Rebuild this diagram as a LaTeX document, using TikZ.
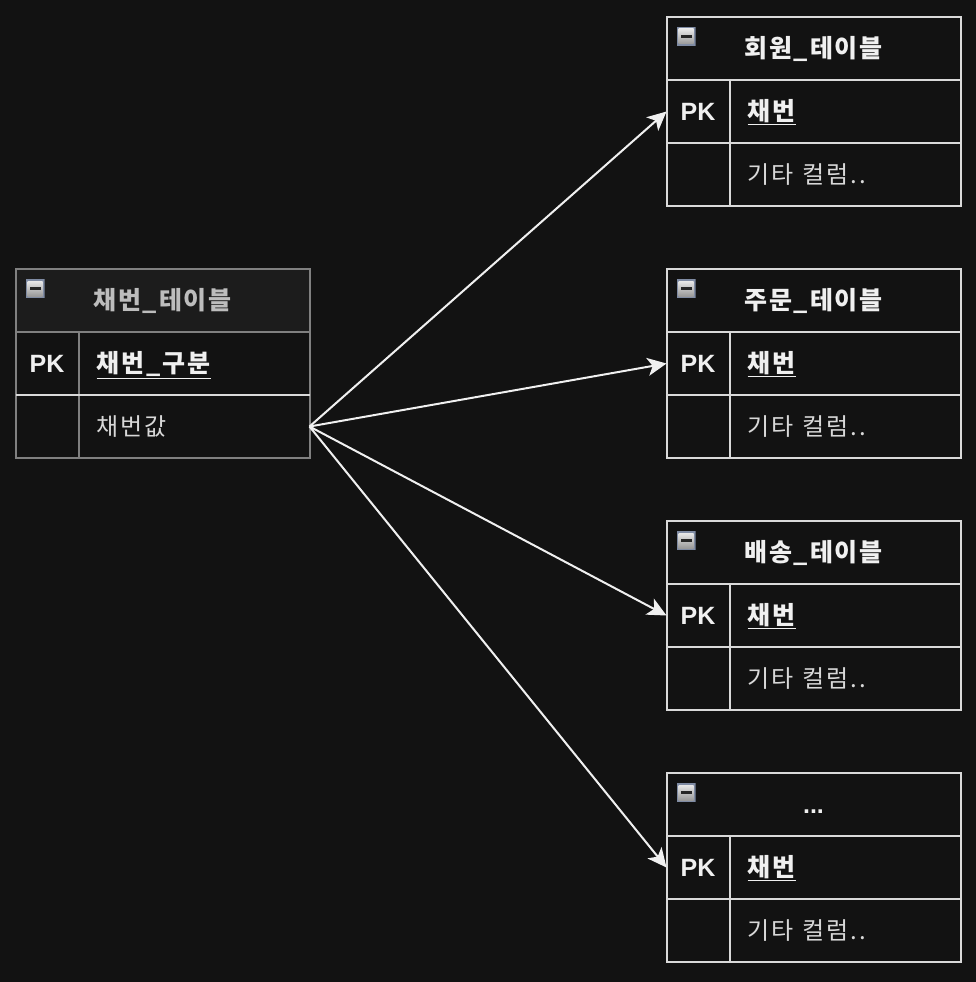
\documentclass[tikz,border=0pt]{standalone}
\usepackage{fontspec}
\usetikzlibrary{arrows.meta,positioning}
\setmainfont{Liberation Sans}
\newfontfamily\krfont[LetterSpace=8]{Noto Sans CJK KR}
\newfontfamily\krtitle[LetterSpace=7]{Noto Sans CJK KR}
\newfontfamily\krlight[LetterSpace=9]{Noto Sans CJK KR}
\definecolor{bgcol}{HTML}{121212}
\definecolor{lineA}{HTML}{D9D9D9}
\definecolor{lineB}{HTML}{808080}
\definecolor{headB}{HTML}{1C1C1C}
\definecolor{textA}{HTML}{F0F0F0}
\definecolor{textB}{HTML}{BDBDBD}
\definecolor{textC}{HTML}{D8D8D8}
\definecolor{iconedge}{HTML}{7F8BA3}
\definecolor{iconlight}{HTML}{E8E8E8}
\definecolor{icondark}{HTML}{9A9A9A}
\tikzset{
  x=1pt,y=-1pt,
  cell/.style={draw=#1,line width=2pt,anchor=north west,inner sep=0pt,outer sep=0pt,rectangle,text=textA,font=\fontsize{25}{28}\selectfont},
  headcell/.style={cell=#1,minimum width=294pt,minimum height=63pt,align=center,font=\krtitle\bfseries\fontsize{25}{28}\selectfont,text height=20pt,text depth=3pt},
  pkcell/.style={cell=#1,minimum width=63pt,minimum height=63pt,font=\bfseries\fontsize{25}{28}\selectfont},
  restcell/.style={cell=#1,minimum height=63pt,text width=195pt,inner xsep=18pt,align=left,text height=19pt,text depth=2pt},
  keycell/.style={restcell=#1,text height=20pt,text depth=2pt},
  iconbox/.style={anchor=north west,draw=none,fill=none,minimum width=19pt,minimum height=19pt,inner sep=0pt,outer sep=0pt,path picture={
    \fill[color=iconedge] (path picture bounding box.north west) rectangle (path picture bounding box.south east);
    \shade[top color=iconlight,bottom color=icondark] ([xshift=2pt,yshift=-2pt]path picture bounding box.north west) rectangle ([xshift=-2pt,yshift=2pt]path picture bounding box.south east);
    \fill[color=black!85] ([xshift=4pt,yshift=-8pt]path picture bounding box.north west) rectangle ([xshift=-4pt,yshift=8pt]path picture bounding box.south east);
  }},
  relation/.style={draw=textA,line width=2pt,-{Stealth[length=19pt,width=18pt,inset=5pt]}},
  brightrule/.style={draw=lineA,line width=2pt}
}
% #1 name, #2 x, #3 y, #4 line colour, #5 head fill, #6 head text colour, #7 title, #8 key, #9 other
\newcommand{\erdtable}[9]{%
  \node[headcell=#4,fill=#5,text=#6] (#1head) at (#2,#3) {#7};
  \node[iconbox] (#1icon) at (#2+10,#3+10) {};
  \node[pkcell=#4] (#1pk) at (#2,#3+63) {PK};
  \node[keycell=#4] (#1key) at (#2+63,#3+63) {\krfont\bfseries\fontsize{25}{28}\selectfont\underline{#8}};
  \node[cell=#4,minimum width=63pt,minimum height=63pt] (#1blank) at (#2,#3+126) {};
  \node[restcell=#4] (#1val) at (#2+63,#3+126) {\krlight\color{textC}\fontsize{24}{28}\selectfont #9};
}
\begin{document}
\begin{tikzpicture}
\useasboundingbox[fill=bgcol] (0,0) rectangle (976,982);
\erdtable{src}{15.5}{269}{lineB}{headB}{textB}{채번\_테이블}{채번\_구분}{채번값}
\draw[brightrule] (srcpk.south west) -- (srckey.south east);
\erdtable{member}{666.5}{17}{lineA}{bgcol}{textA}{회원\_테이블}{채번}{기타 컬럼..}
\erdtable{order}{666.5}{269}{lineA}{bgcol}{textA}{주문\_테이블}{채번}{기타 컬럼..}
\erdtable{ship}{666.5}{521}{lineA}{bgcol}{textA}{배송\_테이블}{채번}{기타 컬럼..}
\erdtable{etc}{666.5}{773}{lineA}{bgcol}{textA}{\rmfamily ...}{채번}{기타 컬럼..}
\draw[relation] (srcval.east) -- (memberpk.west);
\draw[relation] (srcval.east) -- (orderpk.west);
\draw[relation] (srcval.east) -- (shippk.west);
\draw[relation] (srcval.east) -- (etcpk.west);
\end{tikzpicture}
\end{document}
